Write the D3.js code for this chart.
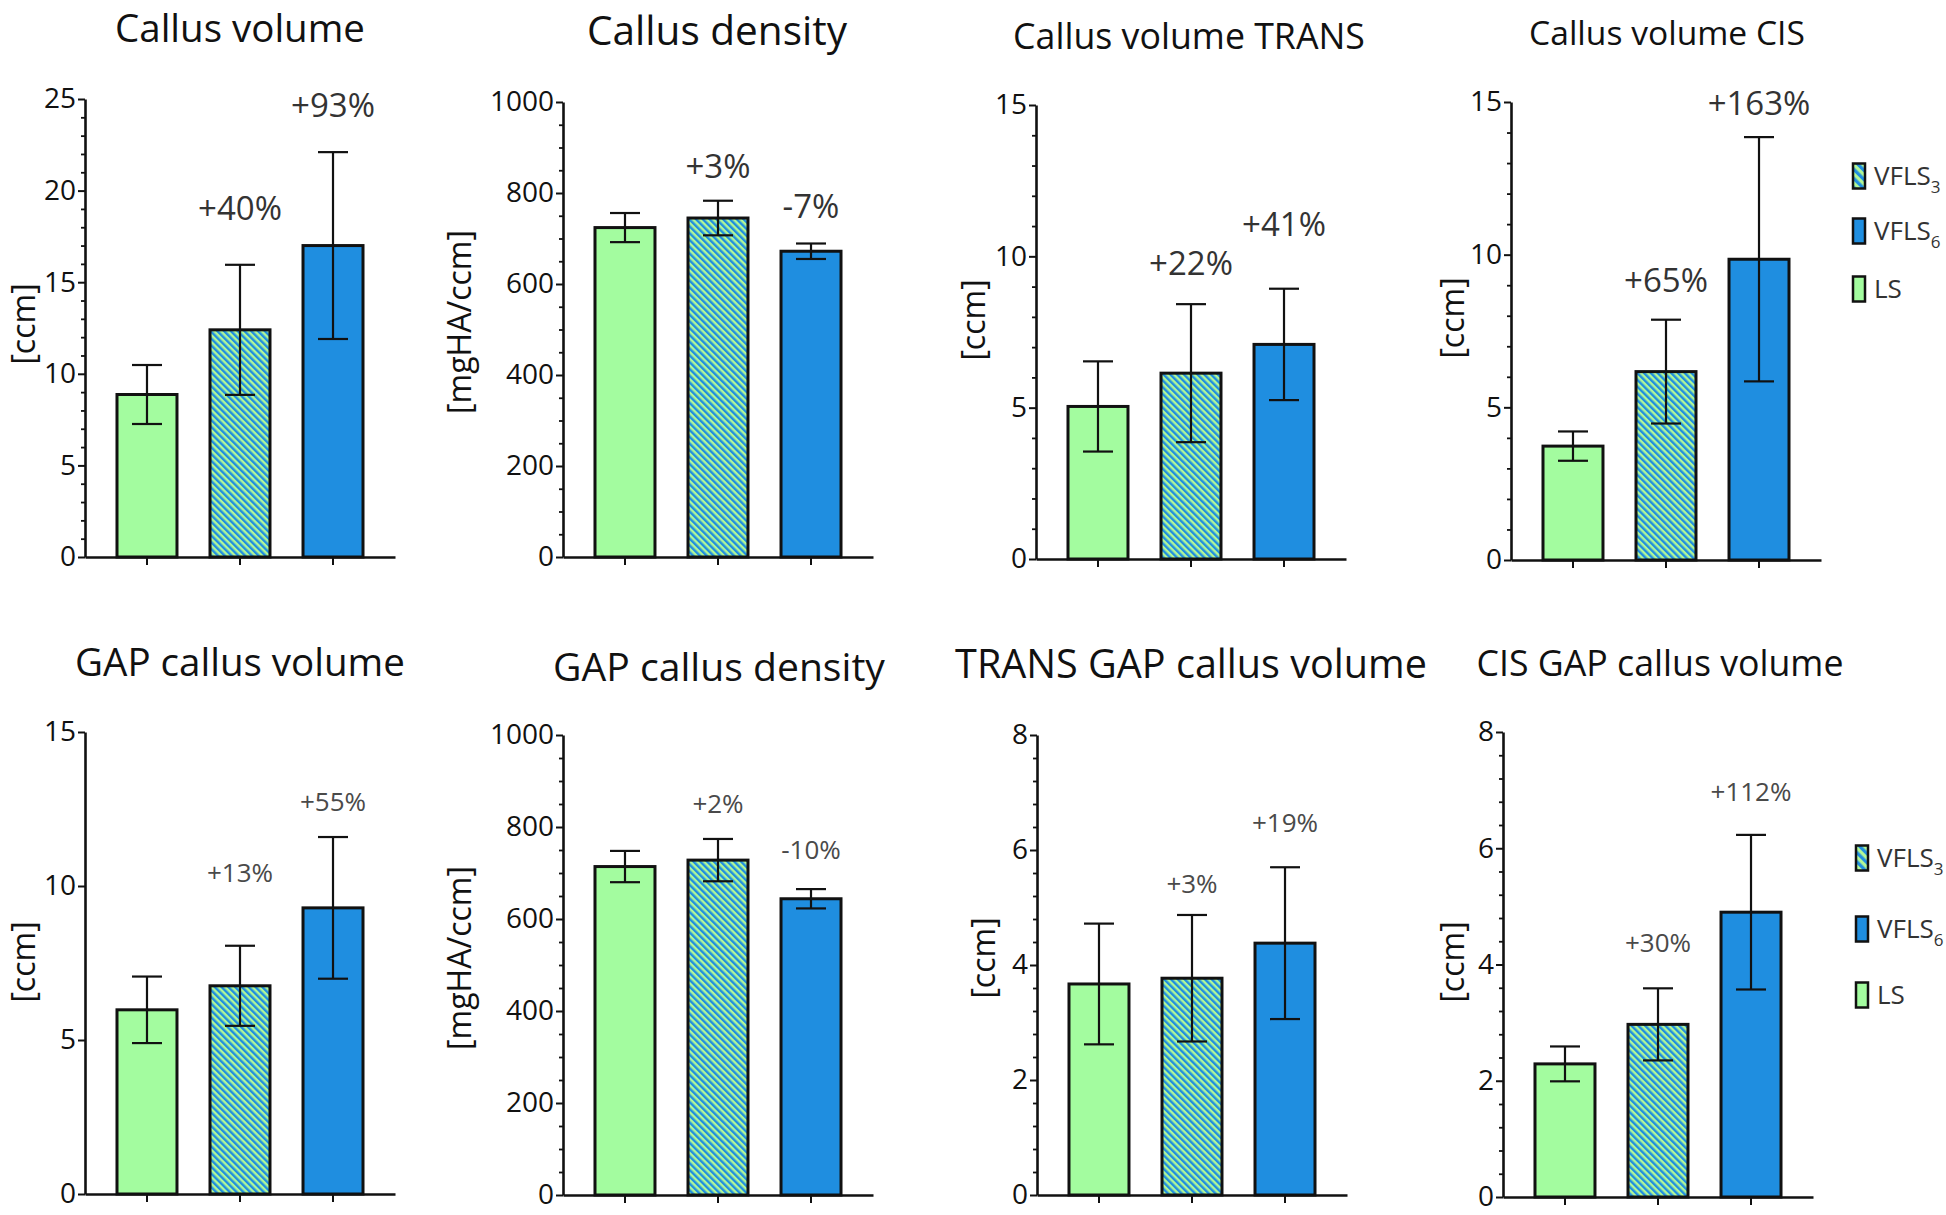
<!DOCTYPE html>
<html><head><meta charset="utf-8">
<script src="https://cdn.jsdelivr.net/npm/d3@7"></script>
<style>
html,body{margin:0;padding:0;background:#fff;}
svg text{font-family:"Open Sans",sans-serif;}
</style></head><body>
<svg id="chart" width="1946" height="1215"></svg>
<script>
// ---------------- DATA ----------------
const groups = ["LS", "VFLS3", "VFLS6"];
const panelTitles = ["Callus volume", "Callus density", "Callus volume TRANS", "Callus volume CIS",
                     "GAP callus volume", "GAP callus density", "TRANS GAP callus volume", "CIS GAP callus volume"];
const yLabels = ["[ccm]", "[mgHA/ccm]", "[ccm]", "[ccm]", "[ccm]", "[mgHA/ccm]", "[ccm]", "[ccm]"];
const yMax   = [25, 1000, 15, 15, 15, 1000, 8, 8];
const yMajor = [5, 200, 5, 5, 5, 200, 2, 2];
const yMinor = [1, 50, 1, 1, 0, 50, 0.4, 0.4];
const meanLS = [8.87, 724, 5.04, 3.73, 5.98, 714, 3.67, 2.29];
const sdLS   = [1.61, 32, 1.49, 0.48, 1.08, 34, 1.05, 0.30];
const meanV3 = [12.4, 745, 6.14, 6.17, 6.76, 728, 3.77, 2.97];
const sdV3   = [3.55, 38, 2.28, 1.70, 1.30, 46, 1.10, 0.62];
const meanV6 = [17.0, 672, 7.09, 9.85, 9.29, 644, 4.38, 4.90];
const sdV6   = [5.10, 17, 1.84, 4.00, 2.30, 21, 1.32, 1.33];
const pctV3 = ["+40%", "+3%", "+22%", "+65%", "+13%", "+2%", "+3%", "+30%"];
const pctV6 = ["+93%", "-7%", "+41%", "+163%", "+55%", "-10%", "+19%", "+112%"];
// value (in axis units) at which each annotation sits
const pctV3At = [19.1, 860, 9.8, 9.2, 10.45, 852, 5.43, 4.38];
const pctV6At = [24.7, 772, 11.1, 15.0, 12.75, 752, 6.48, 6.98];
const legendKeys = ["VFLS3", "VFLS6", "LS"];
const legendMain = ["VFLS", "VFLS", "LS"];
const legendSub  = ["3", "6", ""];

// ---------------- LAYOUT / STYLE ----------------
const L = {
  axisX: [85, 563, 1036, 1511, 85, 563, 1037, 1503],
  top:   [99, 102, 105, 102, 732, 735, 735, 732],
  zero:  [557, 557, 559, 560, 1194, 1195, 1195, 1197],
  plotW: 310,
  titleX: [240, 717, 1189, 1667, 240, 719, 1191, 1660],
  titleY: [42, 45, 49, 45, 676, 681, 678, 676],
  titleW: [250, 260, 352, 276, 330, 332, 472, 367],
  ylabX: [22, 458, 972, 1451, 22, 458, 982, 1451],
  ylabY: [324, 322, 320, 318, 962, 958, 958, 962],
  pctSize: [33, 33, 33, 33, 26, 26, 26, 26],
  pctColor: ["#333", "#333", "#333", "#333", "#4a4a4a", "#4a4a4a", "#4a4a4a", "#4a4a4a"],
  legendX: [1853, 1856],
  legendY: [[176, 231, 289], [858, 929, 995]]
};
const colGreen = "#a3fc9f", colBlue = "#1f8ee0", colHatchLight = "#b2f796";

const svg = d3.select("#chart");
const defs = svg.append("defs");
function hatch(id, period) {
  const p = defs.append("pattern").attr("id", id).attr("patternUnits", "userSpaceOnUse")
    .attr("width", period).attr("height", period).attr("patternTransform", "rotate(-45)");
  p.append("rect").attr("width", period).attr("height", period).attr("fill", colHatchLight);
  p.append("rect").attr("width", period / 2).attr("height", period).attr("fill", colBlue);
}
hatch("hatchBar", 4.8);
hatch("hatchLeg", 6.5);
const fills = { LS: colGreen, VFLS3: "url(#hatchBar)", VFLS6: colBlue };
const legFills = { LS: colGreen, VFLS3: "url(#hatchLeg)", VFLS6: colBlue };

for (let i = 0; i < 8; i++) {
  const g = svg.append("g");
  const x0 = L.axisX[i];
  const y = d3.scaleLinear().domain([0, yMax[i]]).range([L.zero[i], L.top[i]]);
  const x = d3.scaleBand().domain(groups).range([x0, x0 + L.plotW]).paddingInner(0.355).paddingOuter(0.344);
  const rows = [
    { k: "LS", m: meanLS[i], s: sdLS[i] },
    { k: "VFLS3", m: meanV3[i], s: sdV3[i] },
    { k: "VFLS6", m: meanV6[i], s: sdV6[i] }
  ];
  // bars
  g.selectAll("rect.bar").data(rows).join("rect").attr("class", "bar")
    .attr("x", d => x(d.k)).attr("width", x.bandwidth())
    .attr("y", d => y(d.m)).attr("height", d => y(0) - y(d.m))
    .attr("fill", d => fills[d.k]).attr("stroke", "#111").attr("stroke-width", 3);
  // error bars
  const cap = x.bandwidth() * 0.5;
  const cx = d => x(d.k) + x.bandwidth() / 2;
  const eb = g.selectAll("g.eb").data(rows).join("g").attr("class", "eb")
    .attr("stroke", "#111").attr("stroke-width", 2.2);
  eb.append("line").attr("x1", cx).attr("x2", cx)
    .attr("y1", d => y(d.m - d.s)).attr("y2", d => y(d.m + d.s));
  eb.append("line").attr("x1", d => cx(d) - cap / 2).attr("x2", d => cx(d) + cap / 2)
    .attr("y1", d => y(d.m + d.s)).attr("y2", d => y(d.m + d.s));
  eb.append("line").attr("x1", d => cx(d) - cap / 2).attr("x2", d => cx(d) + cap / 2)
    .attr("y1", d => y(d.m - d.s)).attr("y2", d => y(d.m - d.s));

  // y axis
  const major = d3.range(0, yMax[i] + 1e-9, yMajor[i]);
  const ya = g.append("g").attr("transform", `translate(${x0},0)`)
    .call(d3.axisLeft(y).tickValues(major).tickSize(7).tickSizeOuter(0).tickPadding(2).tickFormat(d3.format("d")));
  ya.select(".domain").attr("stroke", "#111").attr("stroke-width", 2.6);
  ya.selectAll(".tick line").attr("stroke", "#111").attr("stroke-width", 2);
  ya.selectAll(".tick text").attr("fill", "#111").attr("font-size", 28)
    .style("font-family", "'Open Sans'");
  if (yMinor[i] > 0) {
    const minor = d3.range(0, yMax[i] + 1e-9, yMinor[i])
      .filter(v => Math.abs(v / yMajor[i] - Math.round(v / yMajor[i])) > 1e-6);
    const ym = g.append("g").attr("transform", `translate(${x0},0)`)
      .call(d3.axisLeft(y).tickValues(minor).tickSize(4).tickSizeOuter(0).tickFormat(""));
    ym.select(".domain").remove();
    ym.selectAll(".tick line").attr("stroke", "#111").attr("stroke-width", 1.8);
  }
  // x axis
  const xa = g.append("g").attr("transform", `translate(0,${L.zero[i]})`)
    .call(d3.axisBottom(x).tickSize(8).tickSizeOuter(0).tickFormat(""));
  xa.select(".domain").attr("stroke", "#111").attr("stroke-width", 2.6);
  xa.selectAll(".tick line").attr("stroke", "#111").attr("stroke-width", 2);

  // title
  const t = g.append("text").attr("x", L.titleX[i]).attr("y", L.titleY[i]).attr("text-anchor", "middle")
    .attr("fill", "#111").attr("font-size", 34).text(panelTitles[i]);
  const tw = t.node().getComputedTextLength();
  t.attr("font-size", 34 * L.titleW[i] / tw);

  // y label
  g.append("text").attr("transform", `translate(${L.ylabX[i]},${L.ylabY[i]}) rotate(-90)`)
    .attr("text-anchor", "middle").attr("dominant-baseline", "central")
    .attr("fill", "#111").attr("font-size", 32).text(yLabels[i]);

  // percent annotations
  const ann = [{ k: "VFLS3", t: pctV3[i], v: pctV3At[i] }, { k: "VFLS6", t: pctV6[i], v: pctV6At[i] }];
  g.selectAll("text.pct").data(ann).join("text").attr("class", "pct")
    .attr("x", d => x(d.k) + x.bandwidth() / 2).attr("y", d => y(d.v))
    .attr("text-anchor", "middle").attr("dominant-baseline", "central")
    .attr("fill", L.pctColor[i]).attr("font-size", L.pctSize[i])
    .text(d => d.t);
}

// legends
for (let r = 0; r < 2; r++) {
  const lg = svg.append("g");
  legendKeys.forEach((k, j) => {
    const cy = L.legendY[r][j];
    lg.append("rect").attr("x", L.legendX[r]).attr("y", cy - 12.5).attr("width", 12).attr("height", 25)
      .attr("fill", legFills[k]).attr("stroke", "#111").attr("stroke-width", 2.5);
    const tx = lg.append("text").attr("x", L.legendX[r] + 21).attr("y", cy + 9)
      .attr("fill", "#333").attr("font-size", 26);
    tx.append("tspan").text(legendMain[j]);
    if (legendSub[j]) tx.append("tspan").attr("dy", 8).attr("font-size", 17).text(legendSub[j]);
  });
}
</script>
</body></html>
